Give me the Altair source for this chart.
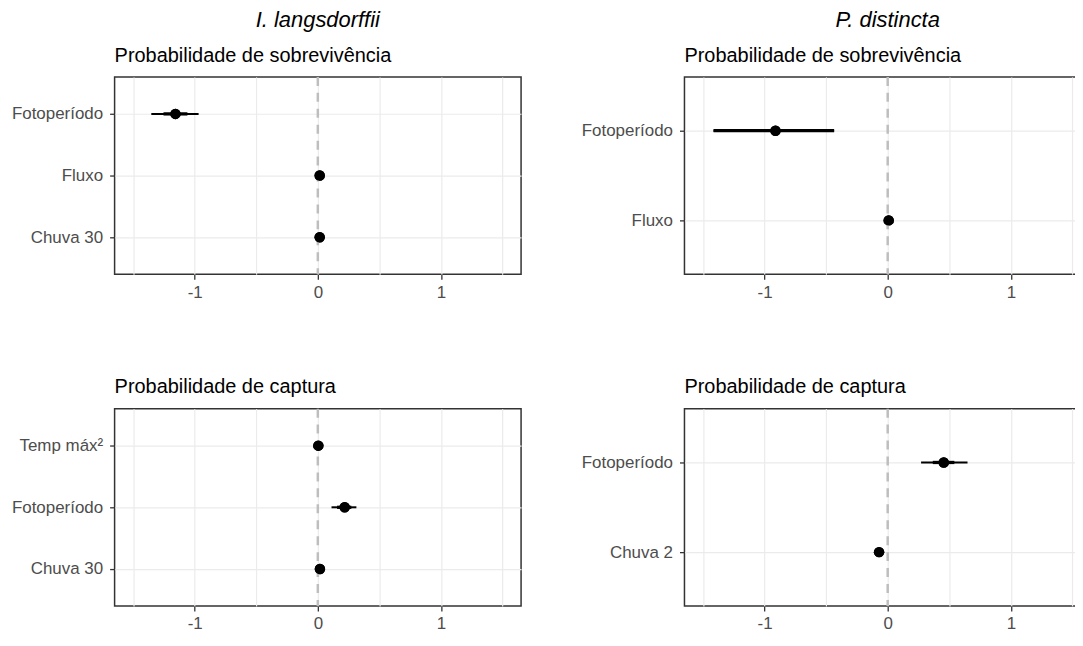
import altair as alt
import pandas as pd

# ---------------- data ----------------
# I. langsdorffii - Probabilidade de sobrevivência
tl_terms = ["Fotoperíodo", "Fluxo", "Chuva 30"]
tl_est = [-1.156, 0.015, 0.015]
tl_lo = [-1.352, 0.015, 0.015]
tl_hi = [-0.968, 0.015, 0.015]
tl_lo_in = [-1.253, 0.015, 0.015]
tl_hi_in = [-1.059, 0.015, 0.015]

# I. langsdorffii - Probabilidade de captura
bl_terms = ["Temp máx²", "Fotoperíodo", "Chuva 30"]
bl_est = [0.004, 0.218, 0.017]
bl_lo = [0.004, 0.111, 0.017]
bl_hi = [0.004, 0.313, 0.017]
bl_lo_in = [0.004, 0.156, 0.017]
bl_hi_in = [0.004, 0.272, 0.017]

# P. distincta - Probabilidade de sobrevivência
tr_terms = ["Fotoperíodo", "Fluxo"]
tr_est = [-0.911, 0.008]
tr_lo = [-1.414, 0.008]
tr_hi = [-0.435, 0.008]
tr_lo_in = [-1.414, 0.008]
tr_hi_in = [-0.435, 0.008]

# P. distincta - Probabilidade de captura
br_terms = ["Fotoperíodo", "Chuva 2"]
br_est = [0.455, -0.070]
br_lo = [0.271, -0.070]
br_hi = [0.648, -0.070]
br_lo_in = [0.366, -0.070]
br_hi_in = [0.541, -0.070]

x_domain = [-1.65, 1.65]
x_values = [-1.5, -1.0, -0.5, 0.0, 0.5, 1.0, 1.5]
zero_ref = [0.0]

FONT = "Liberation Sans"
PANEL_W = 408
PANEL_H = 198


def panel(terms, est, lo, hi, lo_in, hi_in, subtitle):
    df = pd.DataFrame(dict(term=terms, est=est, lo=lo, hi=hi,
                           lo_in=lo_in, hi_in=hi_in))
    xs = alt.Scale(domain=x_domain, nice=False, zero=False)
    ys = alt.Scale(type="point", padding=0.6, domain=terms)
    xaxis = alt.Axis(
        title=None, values=x_values, grid=True, domain=False,
        labelExpr="abs(datum.value % 1) > 0.01 ? '' : toString(datum.value)",
        labelFont=FONT, labelFontSize=17, labelColor="#4D4D4D",
        labelPadding=5, labelOverlap=False, labelFlush=False,
        tickSize=5, tickWidth=1.3,
        tickColor={"condition": {"test": "abs(datum.value % 1) > 0.01",
                                 "value": "transparent"},
                   "value": "#333333"},
        gridColor="#EBEBEB", gridWidth=1.2,
    )
    yaxis = alt.Axis(
        title=None, grid=True, domain=False,
        labelFont=FONT, labelFontSize=17, labelColor="#4D4D4D",
        labelPadding=7, tickSize=5, tickWidth=1.3, tickColor="#333333",
        gridColor="#EBEBEB", gridWidth=1.2,
    )
    zero = alt.Chart(pd.DataFrame({"z": zero_ref})).mark_rule(
        color="#BEBEBE", strokeWidth=2.5, strokeDash=[9, 7]
    ).encode(x=alt.X("z:Q", scale=xs))
    outer = alt.Chart(df).mark_rule(color="black", strokeWidth=2).encode(
        x=alt.X("lo:Q", scale=xs), x2="hi:Q",
        y=alt.Y("term:N", scale=ys, sort=terms))
    inner = alt.Chart(df).mark_rule(color="black", strokeWidth=3.3).encode(
        x=alt.X("lo_in:Q", scale=xs), x2="hi_in:Q",
        y=alt.Y("term:N", scale=ys, sort=terms))
    pts = alt.Chart(df).mark_circle(color="black", opacity=1, size=110).encode(
        x=alt.X("est:Q", scale=xs, axis=xaxis),
        y=alt.Y("term:N", scale=ys, sort=terms, axis=yaxis))
    return alt.layer(pts, zero, outer, inner, pts).properties(
        width=PANEL_W, height=PANEL_H,
        title=alt.TitleParams(subtitle, anchor="start", frame="group",
                              font=FONT, fontSize=20, fontWeight="normal",
                              color="black", offset=10),
    )


tl = panel(tl_terms, tl_est, tl_lo, tl_hi, tl_lo_in, tl_hi_in,
           "Probabilidade de sobrevivência")
bl = panel(bl_terms, bl_est, bl_lo, bl_hi, bl_lo_in, bl_hi_in,
           "Probabilidade de captura")
tr = panel(tr_terms, tr_est, tr_lo, tr_hi, tr_lo_in, tr_hi_in,
           "Probabilidade de sobrevivência")
br = panel(br_terms, br_est, br_lo, br_hi, br_lo_in, br_hi_in,
           "Probabilidade de captura")


def col_title(text):
    return alt.TitleParams(text, anchor="middle", frame="group", font=FONT,
                           fontSize=22, fontStyle="italic", dx=PANEL_W / 2,
                           fontWeight="normal", color="black", offset=13)


left = alt.vconcat(tl, bl, spacing=76, title=col_title("I. langsdorffii"))
right = alt.vconcat(tr, br, spacing=76, title=col_title("P. distincta"))

chart = alt.hconcat(left, right, spacing=58).properties(
    padding={"left": 2, "top": 0, "right": -17, "bottom": 0},
    background="white",
).configure_view(stroke="#333333", strokeWidth=1.5)

chart.save("out.html", embed_options={"renderer": "svg", "actions": False})
